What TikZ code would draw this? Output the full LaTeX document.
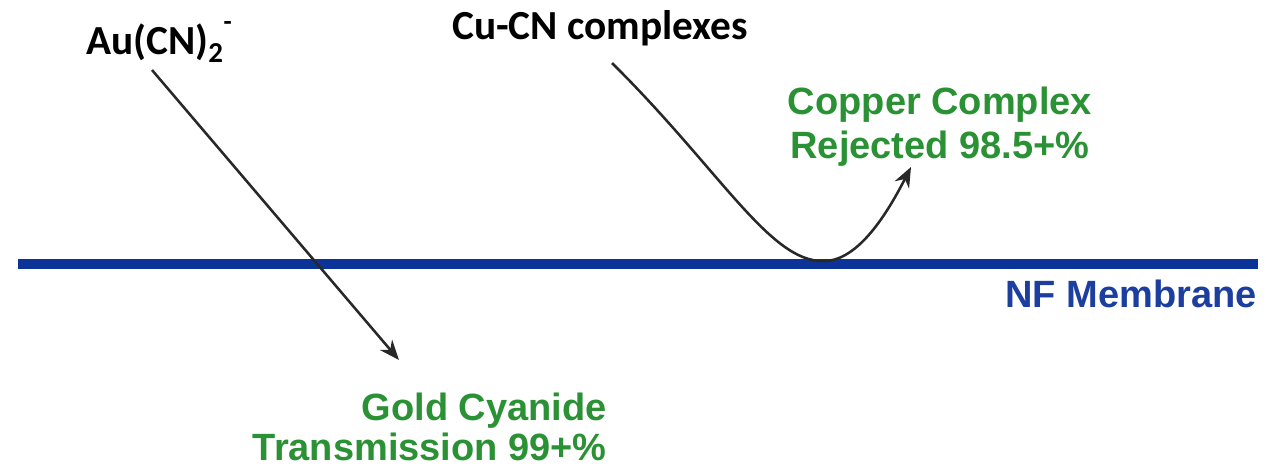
\documentclass[tikz,border=0pt]{standalone}
\usepackage{fontspec}
\setmainfont{Liberation Sans}
\newfontfamily\calib{Carlito}
\usetikzlibrary{arrows.meta}
\definecolor{membraneblue}{RGB}{12,52,152}
\definecolor{nfblue}{RGB}{28,62,158}
\definecolor{labelgreen}{RGB}{42,146,52}
\definecolor{arrowgray}{RGB}{40,40,40}
\tikzset{
  species/.style={font=\calib\bfseries\fontsize{31}{36}\selectfont, text=black, inner sep=0pt},
  result/.style={font=\bfseries\fontsize{28.5}{30}\selectfont, text=labelgreen, inner sep=0pt},
  membranelabel/.style={font=\bfseries\fontsize{28.5}{32}\selectfont, text=nfblue, inner sep=0pt},
  flow/.style={draw=arrowgray, line width=1.9pt, -{Stealth[length=15pt,width=12pt]}},
  membrane/.style={draw=membraneblue, line width=7.5pt}
}
\begin{document}
\begin{tikzpicture}[x=0.75pt,y=-0.75pt]
\useasboundingbox[fill=white] (0,0) rectangle (1288,467);
% membrane
\coordinate (mL) at (18,264);
\coordinate (mR) at (1258,264);
\draw[membrane] (mL) -- (mR);
\node[membranelabel, anchor=base east] (nf) at (1257,307) {NF Membrane};
% species labels
\node[species, anchor=west] (au) at (86,42) {Au(CN)\textsubscript{2}\raisebox{1.2ex}{\fontsize{20}{20}\selectfont -}};
\node[species, anchor=west] (cu) at (452,28) {Cu-CN complexes};
% result labels
\node[result, align=right, anchor=north east] (gold) at (607,393) {Gold Cyanide\\Transmission 99+\%};
\node[result, align=center, anchor=north, font=\bfseries\fontsize{28.5}{32.5}\selectfont] (copper) at (940,87) {Copper Complex\\Rejected 98.5+\%};
% arrows
\coordinate (auS) at (152,70);
\coordinate (auE) at (399,360);
\draw[flow] (auS) -- (auE);
\coordinate (cuS) at (612,63);
\coordinate (cuB) at (823,261);
\coordinate (cuE) at (911,167);
\draw[flow] (cuS) .. controls (720,170) and (770,262) .. (cuB)
  .. controls (858,262) and (888,212) .. (cuE);
\end{tikzpicture}
\end{document}
